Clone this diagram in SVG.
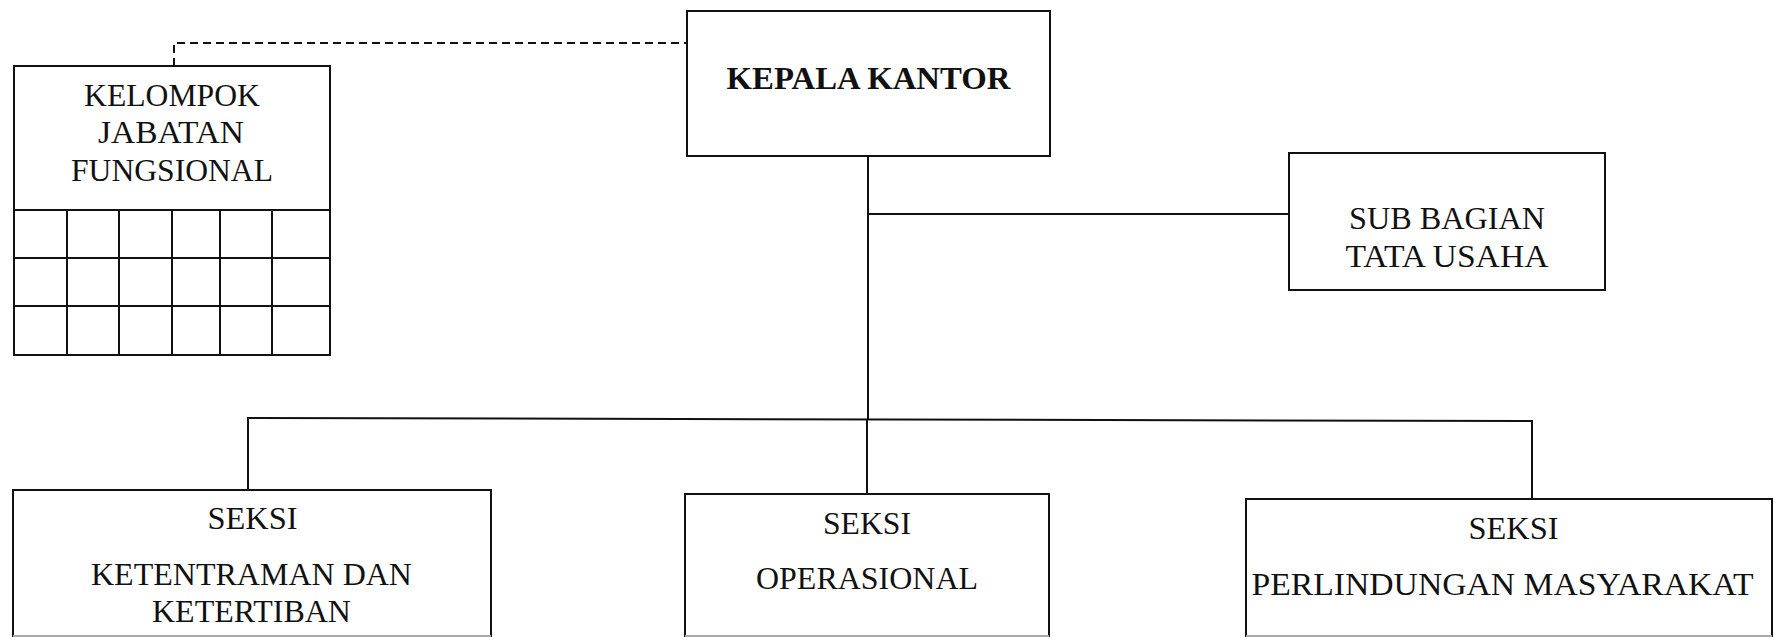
<svg xmlns="http://www.w3.org/2000/svg" width="1774" height="637" viewBox="0 0 1774 637">
<style>
.box{fill:#fff;stroke:#111;stroke-width:2}
.ln{fill:none;stroke:#111;stroke-width:2}
.dash{fill:none;stroke:#111;stroke-width:2;stroke-dasharray:8 5}
.t{font-family:"Liberation Serif","Times New Roman",serif;font-size:31px;fill:#111;text-anchor:middle}
.b{font-weight:bold}
.edge{stroke:#aaa;stroke-width:2}
</style>
<rect x="0" y="0" width="1774" height="637" fill="#fff"/>
<g id="connectors">
<path class="dash" d="M174,66 V43 H687"/>
<path class="ln" d="M868,156 V420"/>
<path class="ln" d="M868,214 H1289"/>
<path class="ln" d="M248,490 V418 L1532,421 V499"/>
<path class="ln" d="M867,419 V494"/>
</g>
<g id="kelompok">
<rect class="box" x="14" y="66" width="316" height="289"/>
<path class="ln" d="M14,210 H330 M14,258 H330 M14,306 H330 M67,210 V355 M119,210 V355 M172,210 V355 M220,210 V355 M272,210 V355"/>
<text class="t" x="172" y="106" textLength="176" lengthAdjust="spacingAndGlyphs">KELOMPOK</text>
<text class="t" x="171" y="143" textLength="146" lengthAdjust="spacingAndGlyphs">JABATAN</text>
<text class="t" x="172" y="181" textLength="202" lengthAdjust="spacingAndGlyphs">FUNGSIONAL</text>
</g>
<g id="kepala">
<rect class="box" x="687" y="11" width="363" height="145"/>
<text class="t b" x="868.5" y="89" textLength="284" lengthAdjust="spacingAndGlyphs">KEPALA KANTOR</text>
</g>
<g id="subbagian">
<rect class="box" x="1289" y="153" width="316" height="137"/>
<text class="t" x="1447" y="229" textLength="196" lengthAdjust="spacingAndGlyphs">SUB BAGIAN</text>
<text class="t" x="1447" y="267" textLength="203" lengthAdjust="spacingAndGlyphs">TATA USAHA</text>
</g>
<g id="seksi-ketentraman">
<rect class="box" x="13" y="490" width="478" height="160"/>
<line class="edge" x1="13" y1="636" x2="491" y2="636"/>
<text class="t" x="252.5" y="529" textLength="90" lengthAdjust="spacingAndGlyphs">SEKSI</text>
<text class="t" x="251.5" y="585" textLength="321" lengthAdjust="spacingAndGlyphs">KETENTRAMAN DAN</text>
<text class="t" x="251.5" y="622" textLength="199" lengthAdjust="spacingAndGlyphs">KETERTIBAN</text>
</g>
<g id="seksi-operasional">
<rect class="box" x="685" y="494" width="364" height="160"/>
<line class="edge" x1="685" y1="636" x2="1049" y2="636"/>
<text class="t" x="867" y="534" textLength="88" lengthAdjust="spacingAndGlyphs">SEKSI</text>
<text class="t" x="867" y="589" textLength="222" lengthAdjust="spacingAndGlyphs">OPERASIONAL</text>
</g>
<g id="seksi-perlindungan">
<rect class="box" x="1246" y="499" width="526" height="160"/>
<line class="edge" x1="1246" y1="636" x2="1772" y2="636"/>
<text class="t" x="1513.5" y="539" textLength="90" lengthAdjust="spacingAndGlyphs">SEKSI</text>
<text class="t" x="1502.5" y="595" textLength="502" lengthAdjust="spacingAndGlyphs">PERLINDUNGAN MASYARAKAT</text>
</g>
</svg>
